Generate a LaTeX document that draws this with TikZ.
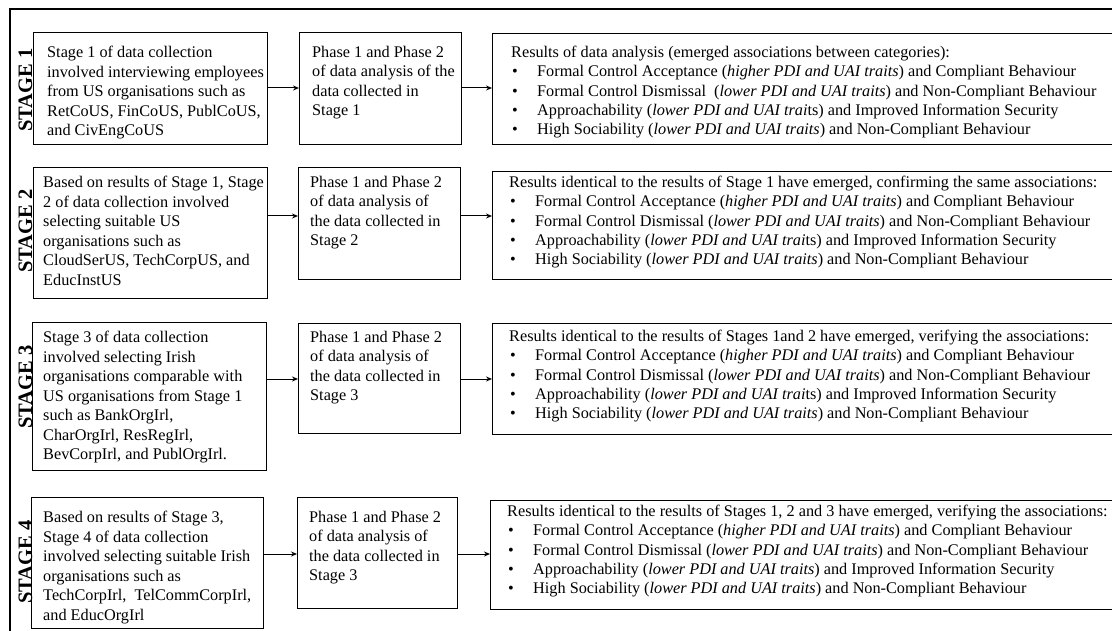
\documentclass[tikz,border=0pt]{standalone}
\usepackage{fontspec}
\setmainfont{Liberation Serif}
\usetikzlibrary{arrows.meta,calc}
\newcommand{\bul}{\hspace*{1pt}\makebox[25pt][l]{\textbullet}}
\begin{document}
\begin{tikzpicture}[x=1pt,y=-1pt,
  frame/.style={line width=2pt},
  box/.style={draw, line width=1.3pt, inner sep=0pt, anchor=north west},
  txt/.style={anchor=north west, inner sep=0pt, align=left, font=\fontsize{16.25}{19.5}\selectfont},
  rtxt/.style={anchor=north west, inner sep=0pt, align=left, font=\fontsize{16.25}{19.3}\selectfont},
  stagelbl/.style={rotate=90, font=\fontsize{20.5}{24}\selectfont\bfseries, inner sep=0pt},
  arr/.style={line width=1pt, -{Stealth[length=6pt,width=5pt]}}]
\useasboundingbox (0,0) rectangle (1112,631);
\clip (0,0) rectangle (1112,631);
\draw[frame] (10,640) -- (10,9) -- (1120,9);

% ---------- Stage 1
\node[stagelbl] (l1) at (25.5,90) {STAGE 1};
\node[box, minimum width=234pt, minimum height=112pt] (a1) at (33,32) {};
\node[box, minimum width=162pt, minimum height=112pt] (b1) at (299,32) {};
\node[box, minimum width=700pt, minimum height=111pt] (c1) at (492,33) {};
\node[txt] (ta1) at ($(a1.north west)+(14,14)$) {Stage 1 of data collection\\involved interviewing employees\\from US organisations such as\\RetCoUS, FinCoUS, PublCoUS,\\and CivEngCoUS};
\node[txt] (tb1) at ($(b1.north west)+(13,14)$) {Phase 1 and Phase 2\\of data analysis of the\\data collected in\\Stage 1};
\node[rtxt] (tc1) at ($(c1.north west)+(19,13)$) {Results of data analysis (emerged associations between categories):\\
\bul Formal Control Acceptance (\textit{higher PDI and UAI traits}) and Compliant Behaviour\\
\bul Formal Control Dismissal\ \ (\textit{lower PDI and UAI traits}) and Non-Compliant Behaviour\\
\bul Approachability (\textit{lower PDI and UAI trai}ts) and Improved Information Security\\
\bul High Sociability (\textit{lower PDI and UAI traits}) and Non-Compliant Behaviour};
\coordinate (y1) at (0,88);
\draw[arr] (a1.east |- y1) -- (b1.west |- y1);
\draw[arr] (b1.east |- y1) -- (c1.west |- y1);

% ---------- Stage 2
\node[stagelbl] (l2) at (25.5,231) {STAGE 2};
\node[box, minimum width=234pt, minimum height=131pt] (a2) at (33,167) {};
\node[box, minimum width=162pt, minimum height=112pt] (b2) at (298,167) {};
\node[box, minimum width=700pt, minimum height=108pt] (c2) at (492,171) {};
\node[txt] (ta2) at ($(a2.north west)+(10,9)$) {Based on results of Stage 1, Stage\\2 of data collection involved\\selecting suitable US\\organisations such as\\CloudSerUS, TechCorpUS, and\\EducInstUS};
\node[txt] (tb2) at ($(b2.north west)+(12,9)$) {Phase 1 and Phase 2\\of data analysis of\\the data collected in\\Stage 2};
\node[rtxt] (tc2) at ($(c2.north west)+(17,5)$) {Results identical to the results of Stage 1 have emerged, confirming the same associations:\\
\bul Formal Control Acceptance (\textit{higher PDI and UAI traits}) and Compliant Behaviour\\
\bul Formal Control Dismissal (\textit{lower PDI and UAI traits}) and Non-Compliant Behaviour\\
\bul Approachability (\textit{lower PDI and UAI trai}ts) and Improved Information Security\\
\bul High Sociability (\textit{lower PDI and UAI traits}) and Non-Compliant Behaviour};
\coordinate (y2) at (0,216);
\draw[arr] (a2.east |- y2) -- (b2.west |- y2);
\draw[arr] (b2.east |- y2) -- (c2.west |- y2);

% ---------- Stage 3
\node[stagelbl] (l3) at (25.5,387) {STAGE 3};
\node[box, minimum width=234pt, minimum height=148pt] (a3) at (32,322) {};
\node[box, minimum width=162pt, minimum height=110pt] (b3) at (298,323) {};
\node[box, minimum width=700pt, minimum height=111pt] (c3) at (492,323) {};
\node[txt] (ta3) at ($(a3.north west)+(11,9)$) {Stage 3 of data collection\\involved selecting Irish\\organisations comparable with\\US organisations from Stage 1\\such as BankOrgIrl,\\CharOrgIrl, ResRegIrl,\\BevCorpIrl, and PublOrgIrl.};
\node[txt] (tb3) at ($(b3.north west)+(12,8)$) {Phase 1 and Phase 2\\of data analysis of\\the data collected in\\Stage 3};
\node[rtxt] (tc3) at ($(c3.north west)+(17,7)$) {Results identical to the results of Stages 1and 2 have emerged, verifying the associations:\\
\bul Formal Control Acceptance (\textit{higher PDI and UAI traits}) and Compliant Behaviour\\
\bul Formal Control Dismissal (\textit{lower PDI and UAI traits}) and Non-Compliant Behaviour\\
\bul Approachability (\textit{lower PDI and UAI trai}ts) and Improved Information Security\\
\bul High Sociability (\textit{lower PDI and UAI traits}) and Non-Compliant Behaviour};
\coordinate (y3) at (0,379);
\draw[arr] (a3.east |- y3) -- (b3.west |- y3);
\draw[arr] (b3.east |- y3) -- (c3.west |- y3);

% ---------- Stage 4
\node[stagelbl] (l4) at (25.5,562) {STAGE 4};
\node[box, minimum width=232pt, minimum height=131pt] (a4) at (31,497) {};
\node[box, minimum width=160pt, minimum height=111pt] (b4) at (297,497) {};
\node[box, minimum width=700pt, minimum height=109pt] (c4) at (490,500) {};
\node[txt] (ta4) at ($(a4.north west)+(12,14)$) {Based on results of Stage 3,\\Stage 4 of data collection\\involved selecting suitable Irish\\organisations such as\\TechCorpIrl,\ \ TelCommCorpIrl,\\and EducOrgIrl};
\node[txt] (tb4) at ($(b4.north west)+(12,14)$) {Phase 1 and Phase 2\\of data analysis of\\the data collected in\\Stage 3};
\node[rtxt] (tc4) at ($(c4.north west)+(17,5)$) {Results identical to the results of Stages 1, 2 and 3 have emerged, verifying the associations:\\
\bul Formal Control Acceptance (\textit{higher PDI and UAI traits}) and Compliant Behaviour\\
\bul Formal Control Dismissal (\textit{lower PDI and UAI traits}) and Non-Compliant Behaviour\\
\bul Approachability (\textit{lower PDI and UAI traits}) and Improved Information Security\\
\bul High Sociability (\textit{lower PDI and UAI traits}) and Non-Compliant Behaviour};
\coordinate (y4) at (0,554);
\draw[arr] (a4.east |- y4) -- (b4.west |- y4);
\draw[arr] (b4.east |- y4) -- (c4.west |- y4);
\end{tikzpicture}
\end{document}
